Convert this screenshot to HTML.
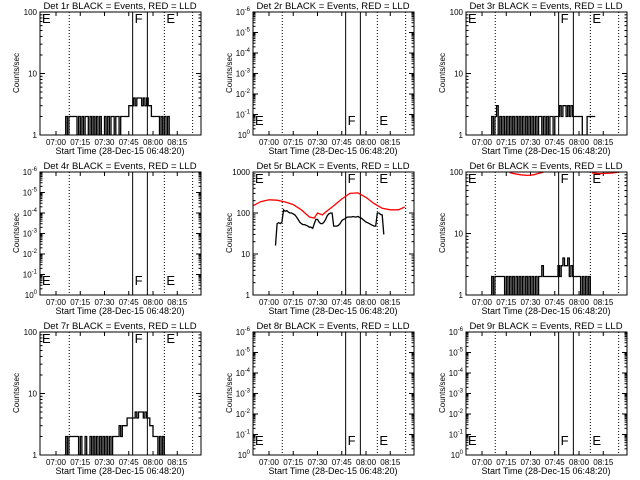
<!DOCTYPE html>
<html><head><meta charset="utf-8"><style>
body{margin:0;background:#fff}
svg{display:block;font-family:"Liberation Sans",sans-serif}
</style></head><body>
<svg id="c" width="640" height="480" viewBox="0 0 640 480">
<rect width="640" height="480" fill="#fff"/>
</svg>
<script>
// time ticks (minutes after 07:00)
const tickTimes=[0,15,30,45,60,75];
const tickLabels=["07:00","07:15","07:30","07:45","08:00","08:15"];
const dottedTimes=[8.2,67,84.5];
const solidTimes=[47.4,56.5];
const panelTitles=["Det 1r","Det 2r","Det 3r","Det 4r","Det 5r","Det 6r","Det 7r","Det 8r","Det 9r"];
const panelTypes=["log2","neg","log2","neg","log3","log2","log2","neg","neg"];
// black series: 1-minute bins starting at given minute
const black1Start=5;
const black1=[1,2,1,2,2,2,2,2, 1,2,1,2,1,2,2,1,2,1,2,1,2, 1,2,1,1,2,1,2,1,2,2,1,2,2,1,2,2, 2,2,2,3,3, 3,4,3,4,4,4,3,4,3,4, 3,3,2,2, 2,2,2,1, 2,1,2,1,2,1];
const black3Start=5;
const black3=[1,2,1,2,3,1,2,1,2,1,2,1,2,1,2,1,2,1,2,1,2,1,2,1,2,1,2,1,2,1,2,2,1,2,1,2,1,2,2,1,2,2, 2,3,2,3,3,2,3,2,3, 2,2,2,2,2,2, 1,1,1, 2,2,2,2,2];
const black6Start=5;
const black6=[1,2,1,2,2,2,2,2,2,1,2,1,2,1,2,1,2,1,2,1,2,1,2,1,2,1,2,1,2,1,2,2,3,2,2,2,2,2,2,2,2, 2,3,2,3,4,3,3,4,2,3, 2,2,2,2,2,1, 2,1,2,1,2,1];
const black7Start=5;
const black7=[1,2,1,2,2,2,2,2,2,1,2,1,1,2,1,1,2,1,2,1,2,1,2,1,2,1,2,1,2,1,2,2,2,2,3,2,3,3, 3,4,4,4,4, 4,5,4,5,5,5,4,5, 4,4,3,3,2, 2,2,1,2,1,2,1];
const black5Start=4;
const black5=[16,55,58,55,60,120,110,115,105,100,100,95,90,80,70,60,55,52,52,50,48,45,45,42,55,70,70,60,55,55,60,70,85,95,100,100,48,48,48,50,55,65,70,72,78,80,80,80,82,80,80,82,78,75,70,65,60,58,55,52,50,48,48,100,100,92,90,30];
// red (LLD) series: sampled points
const red5T=[-10,-5,0,5,10,15,20,25,28,30,33,35,40,45,50,55,60,65,70,75,80,84];
const red5V=[150,190,210,205,185,160,120,80,75,100,90,105,150,220,300,310,240,170,130,120,120,140];
const red6aT=[17,20,24,28,32,35,38];
const red6aV=[98,94,90,88,90,95,99];
const red6bT=[68,72,76,80,84];
const red6bV=[97,94,95,96,99];

const NS="http://www.w3.org/2000/svg";
const svg=document.getElementById('c');
function mk(tag,attrs,parent){const e=document.createElementNS(NS,tag);for(const k in attrs)e.setAttribute(k,attrs[k]);(parent||svg).appendChild(e);return e;}
const W=161,H=123;
const seriesBlack={0:[black1Start,black1],2:[black3Start,black3],4:[black5Start,black5],5:[black6Start,black6],6:[black7Start,black7]};
for(let i=0;i<9;i++){
  const col=i%3,row=Math.floor(i/3);
  const L=[40,253,466][col],T=row*160+12,B=T+H,R=L+W;
  const g=mk('g',{});
  
  
  const xs=t=>L+16+1.617*t;
  const type=panelTypes[i];
  const decades=type==='log3'?3:2;
  const ys=v=>B-Math.log10(v)/decades*H;
  const cid='clip'+i;
  const cp=mk('clipPath',{id:cid},g);mk('rect',{x:L,y:T,width:W,height:H},cp);
  // title
  const tt=mk('text',{x:L+80,y:T-3,'font-size':9.5,'text-anchor':'middle'},g);
  tt.textContent=panelTitles[i]+" BLACK = Events, RED = LLD";
  
  // y title
  const yt=mk('text',{x:0,y:0,'font-size':8,'text-anchor':'middle',transform:`translate(${L-21},${T+61}) rotate(-90)`},g);
  yt.textContent="Counts/sec";
  
  // x labels
  tickTimes.forEach((t,k)=>{
    const tx=mk('text',{x:xs(t),y:B+10,'font-size':8,'text-anchor':'middle'},g);
    tx.textContent=tickLabels[k];
    
    mk('line',{x1:xs(t),x2:xs(t),y1:B,y2:B-4,stroke:'#000','stroke-width':1},g);
    mk('line',{x1:xs(t),x2:xs(t),y1:T,y2:T+4,stroke:'#000','stroke-width':1},g);
  });
  const xt=mk('text',{x:L+80,y:B+19,'font-size':9,'text-anchor':'middle'},g);
  xt.textContent="Start Time (28-Dec-15 06:48:20)";
  
  // y ticks
  if(type==='neg'){
    for(let k=0;k<=6;k++){
      const y=B-k*H/6;
      const lab=mk('text',{x:L-3,y:y+3,'font-size':8,'text-anchor':'end'},g);
      lab.innerHTML='10<tspan dy="-4" font-size="6">'+(k===0?'0':'-'+k)+'</tspan>';
      
      mk('line',{x1:L,x2:L+5,y1:y,y2:y,stroke:'#000'},g);mk('line',{x1:R,x2:R-5,y1:y,y2:y,stroke:'#000'},g);
      if(k<6)for(let m=2;m<10;m++){const yy=y-Math.log10(m)*H/6;mk('line',{x1:L,x2:L+2.5,y1:yy,y2:yy,stroke:'#000'},g);mk('line',{x1:R,x2:R-2.5,y1:yy,y2:yy,stroke:'#000'},g);}
    }
  }else{
    for(let k=0;k<=decades;k++){
      const y=ys(Math.pow(10,k));
      const lab=mk('text',{x:L-3,y:y+3,'font-size':8,'text-anchor':'end'},g);
      lab.textContent=String(Math.pow(10,k));
      
      mk('line',{x1:L,x2:L+5,y1:y,y2:y,stroke:'#000'},g);mk('line',{x1:R,x2:R-5,y1:y,y2:y,stroke:'#000'},g);
      if(k<decades)for(let m=2;m<10;m++){const yy=ys(m*Math.pow(10,k));mk('line',{x1:L,x2:L+2.5,y1:yy,y2:yy,stroke:'#000'},g);mk('line',{x1:R,x2:R-2.5,y1:yy,y2:yy,stroke:'#000'},g);}
    }
  }
  // markers
  dottedTimes.forEach(t=>{const l=mk('line',{x1:xs(t),x2:xs(t),y1:T,y2:B,stroke:'#000','stroke-dasharray':'1,2'},g);});
  solidTimes.forEach(t=>{const l=mk('line',{x1:xs(t),x2:xs(t),y1:T,y2:B,stroke:'#000','stroke-width':1},g);});
  const top=type!=='neg';
  const ly=top?T+11:B-10;
  [[L+2,'E'],[xs(solidTimes[0])+2,'F'],[xs(dottedTimes[1])+2,'E']].forEach(([x,s])=>{
    const t=mk('text',{x:x,y:ly,'font-size':13,'font-weight':'normal'},g);t.textContent=s;
    
  });
  // series
  const cg=mk('g',{'clip-path':`url(#${cid})`},g);
  if(seriesBlack[i]){
    const [st,arr]=seriesBlack[i];
    let d='';
    if(i===4){arr.forEach((v,k)=>{d+=(k?'L':'M')+xs(st+k).toFixed(1)+','+ys(v).toFixed(1);});}
    else arr.forEach((v,k)=>{const x0=xs(st+k),x1=xs(st+k+1),y=ys(v);d+=(k?'L':'M')+x0.toFixed(1)+','+y.toFixed(1)+'L'+x1.toFixed(1)+','+y.toFixed(1);});
    const p=mk('path',{d:d,fill:'none',stroke:'#000','stroke-width':1.3},cg);
    
  }
  const reds=i===4?[[red5T,red5V]]:i===5?[[red6aT,red6aV],[red6bT,red6bV]]:[];
  reds.forEach(([ts,vs])=>{
    const d=ts.map((t,k)=>(k?'L':'M')+xs(t).toFixed(1)+','+ys(vs[k]).toFixed(1)).join('');
    const p=mk('path',{d:d,fill:'none',stroke:'#ff0000','stroke-width':1.3},cg);
    
  });
  const fr=mk('rect',{x:L,y:T,width:W,height:H,fill:'none',stroke:'#000','stroke-width':1},g);
  
}
</script>
</body></html>
